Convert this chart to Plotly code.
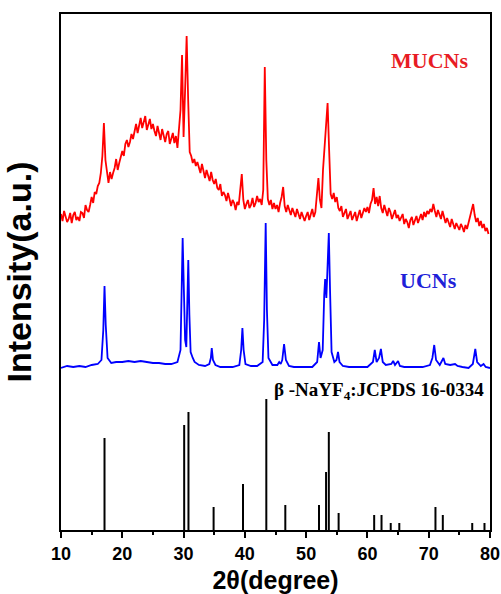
import plotly.graph_objects as go

# ---------------- data ----------------
# MUCNs (red): sampled on a 0.25 degree 2-theta grid from 10.00 to 79.75
red_start = 10.0
red_step = 0.25
red_y = [
    316, 309, 319, 314, 308, 311, 317, 307, 315, 318, 310, 313, 309, 318, 317, 312, 325, 320, 318, 325,
    333, 327, 338, 336, 344, 347, 357, 374, 407, 370, 355, 347, 358, 351, 357, 362, 371, 360, 367, 372,
    379, 374, 386, 390, 383, 388, 396, 391, 398, 406, 397, 403, 412, 402, 407, 414, 400, 405, 411, 401,
    406, 399, 394, 404, 397, 390, 401, 395, 388, 396, 399, 386, 392, 397, 387, 394, 382, 398, 420, 475,
    393, 440, 494, 430, 378, 374, 367, 371, 364, 368, 361, 357, 366, 359, 352, 360, 355, 349, 358, 350,
    346, 351, 342, 340, 346, 334, 338, 335, 329, 337, 331, 324, 330, 327, 320, 328, 325, 340, 356, 330,
    321, 326, 330, 322, 325, 332, 323, 327, 334, 328, 331, 325, 340, 463, 370, 331, 325, 330, 321, 327,
    321, 325, 318, 327, 333, 343, 324, 318, 325, 320, 315, 322, 318, 313, 321, 316, 311, 318, 313, 309,
    314, 318, 310, 316, 321, 313, 318, 335, 352, 330, 322, 360, 383, 405, 427, 380, 336, 331, 337, 328,
    333, 322, 319, 324, 313, 317, 321, 311, 316, 319, 310, 314, 318, 309, 315, 320, 312, 317, 322, 318,
    323, 317, 326, 330, 342, 326, 333, 324, 334, 322, 317, 325, 319, 314, 322, 318, 311, 316, 320, 312,
    315, 309, 313, 316, 306, 311, 308, 302, 310, 313, 305, 309, 314, 307, 312, 316, 310, 318, 313, 319,
    316, 321, 318, 326, 319, 313, 320, 316, 311, 319, 314, 307, 312, 308, 303, 311, 306, 301, 307, 304,
    300, 306, 303, 298, 305, 301, 308, 314, 322, 326, 315, 308, 312, 304, 309, 302, 306, 299, 302, 296,
]
red_x = [red_start + red_step * i for i in range(len(red_y))]

# UCNs (blue)
blue_x = [10.0, 11.0, 12.0, 13.0, 14.0, 15.0, 16.0, 16.6, 16.9, 17.1, 17.3, 17.6, 18.2, 19.0, 20.0,
          21.0, 22.0, 23.0, 24.0, 25.0, 26.0, 27.0, 28.0, 29.0, 29.5, 29.7, 29.85, 30.05, 30.25, 30.45,
          30.6, 30.77, 30.95, 31.15, 31.5, 31.8, 32.5, 33.5, 34.2, 34.45, 34.6, 34.8, 35.2, 36.0, 37.0,
          38.0, 39.1, 39.4, 39.6, 39.8, 40.1, 41.0, 42.0, 42.9, 43.15, 43.4, 43.6, 43.85, 44.5, 45.3,
          45.6, 45.85, 46.1, 46.4, 46.7, 47.2, 48.0, 49.0, 50.0, 51.0, 51.8, 52.1, 52.35, 52.7, 52.95,
          53.1, 53.3, 53.5, 53.7, 53.9, 54.15, 54.6, 54.95, 55.2, 55.45, 56.0, 57.0, 58.0, 59.0, 60.0,
          60.9, 61.2, 61.5, 61.9, 62.2, 62.5, 63.0, 63.9, 64.2, 64.5, 65.0, 65.3, 66.0, 67.0, 68.0,
          69.0, 70.2, 70.6, 70.9, 71.2, 71.8, 72.1, 72.4, 72.7, 73.5, 74.3, 74.7, 75.5, 76.5, 77.2,
          77.6, 77.9, 78.5, 78.95, 79.3, 80.0]
blue_y = [162, 164, 163, 164, 163, 165, 166, 170, 200, 244, 205, 172, 167, 168, 168,
          169, 168, 169, 168, 167, 167, 166, 166, 168, 180, 240, 292, 240, 190, 183,
          225, 270, 215, 178, 172, 168, 165, 164, 166, 172, 182, 170, 165, 163, 163,
          163, 165, 180, 202, 180, 166, 164, 164, 168, 210, 307, 220, 172, 165, 165,
          168, 166, 170, 186, 170, 164, 163, 163, 163, 163, 168, 188, 172, 180, 235,
          251, 232, 265, 297, 240, 178, 168, 170, 178, 168, 164, 163, 163, 163, 163,
          168, 180, 168, 172, 181, 168, 165, 166, 169, 165, 169, 164, 163, 163, 163,
          163, 165, 172, 185, 170, 165, 168, 172, 166, 165, 166, 164, 163, 162, 166,
          181, 168, 164, 166, 163, 162]

# beta-NaYF4 reference pattern (JCPDS 16-0334)
ref_pos = [17.1, 30.1, 30.8, 34.9, 39.7, 43.5, 46.6, 52.1, 53.25, 53.7, 55.3,
           61.1, 62.3, 63.8, 65.2, 71.1, 72.3, 77.1, 79.1]
ref_int = [92, 105, 118, 23, 46, 131, 25, 25, 58, 98, 17,
           15, 15, 7, 7, 23, 15, 7, 7]

x_ticks = [10, 20, 30, 40, 50, 60, 70, 80]

# ---------------- figure ----------------
stick_x, stick_y = [], []
for p, h in zip(ref_pos, ref_int):
    stick_x += [p, p, None]
    stick_y += [0, h, None]

fig = go.Figure()
fig.add_trace(go.Scatter(x=stick_x, y=stick_y, mode="lines",
                         line=dict(color="black", width=2), hoverinfo="skip"))
fig.add_trace(go.Scatter(x=blue_x, y=blue_y, mode="lines",
                         line=dict(color="#0000ff", width=1.8)))
fig.add_trace(go.Scatter(x=red_x, y=red_y, mode="lines",
                         line=dict(color="#ff0000", width=1.8)))

serif = "Liberation Serif, Times New Roman, serif"
sans = "Liberation Sans, Arial, sans-serif"

fig.add_annotation(x=70.2, y=470, text="MUCNs", showarrow=False, xanchor="center", yanchor="middle",
                   font=dict(family=serif, size=22, color="#e81c24", weight="bold"))
fig.add_annotation(x=70.0, y=250, text="UCNs", showarrow=False, xanchor="center", yanchor="middle",
                   font=dict(family=serif, size=22, color="#2020d8", weight="bold"))
fig.add_annotation(x=79.4, y=139, text="β -NaYF<sub>4</sub>:JCPDS 16-0334", showarrow=False,
                   xanchor="right", yanchor="middle",
                   font=dict(family=serif, size=19, color="black", weight="bold"))

fig.update_layout(
    width=501, height=594,
    margin=dict(l=61, r=11, t=14, b=64, autoexpand=False),
    paper_bgcolor="white", plot_bgcolor="white",
    showlegend=False,
    xaxis=dict(range=[10, 80], tickvals=x_ticks, ticktext=[str(t) for t in x_ticks],
               automargin=False,
               ticks="outside", ticklen=6, tickwidth=2, tickcolor="black",
               minor=dict(dtick=5, tick0=10, ticks="outside", ticklen=3, tickwidth=2, tickcolor="black"),
               showline=True, linewidth=2, linecolor="black", mirror=True,
               showgrid=False, zeroline=False,
               tickfont=dict(family=sans, size=18, color="black", weight="bold"),
               title=dict(text="2θ(degree)", standoff=10,
                          font=dict(family=sans, size=25, color="black", weight="bold"))),
    yaxis=dict(range=[0, 516], showticklabels=False, ticks="", automargin=False,
               showline=True, linewidth=2, linecolor="black", mirror=True,
               showgrid=False, zeroline=False,
               title=dict(text="Intensity(a.u.)", standoff=18,
                          font=dict(family=sans, size=34, color="black", weight="bold"))),
)

fig.write_html("out.html")
